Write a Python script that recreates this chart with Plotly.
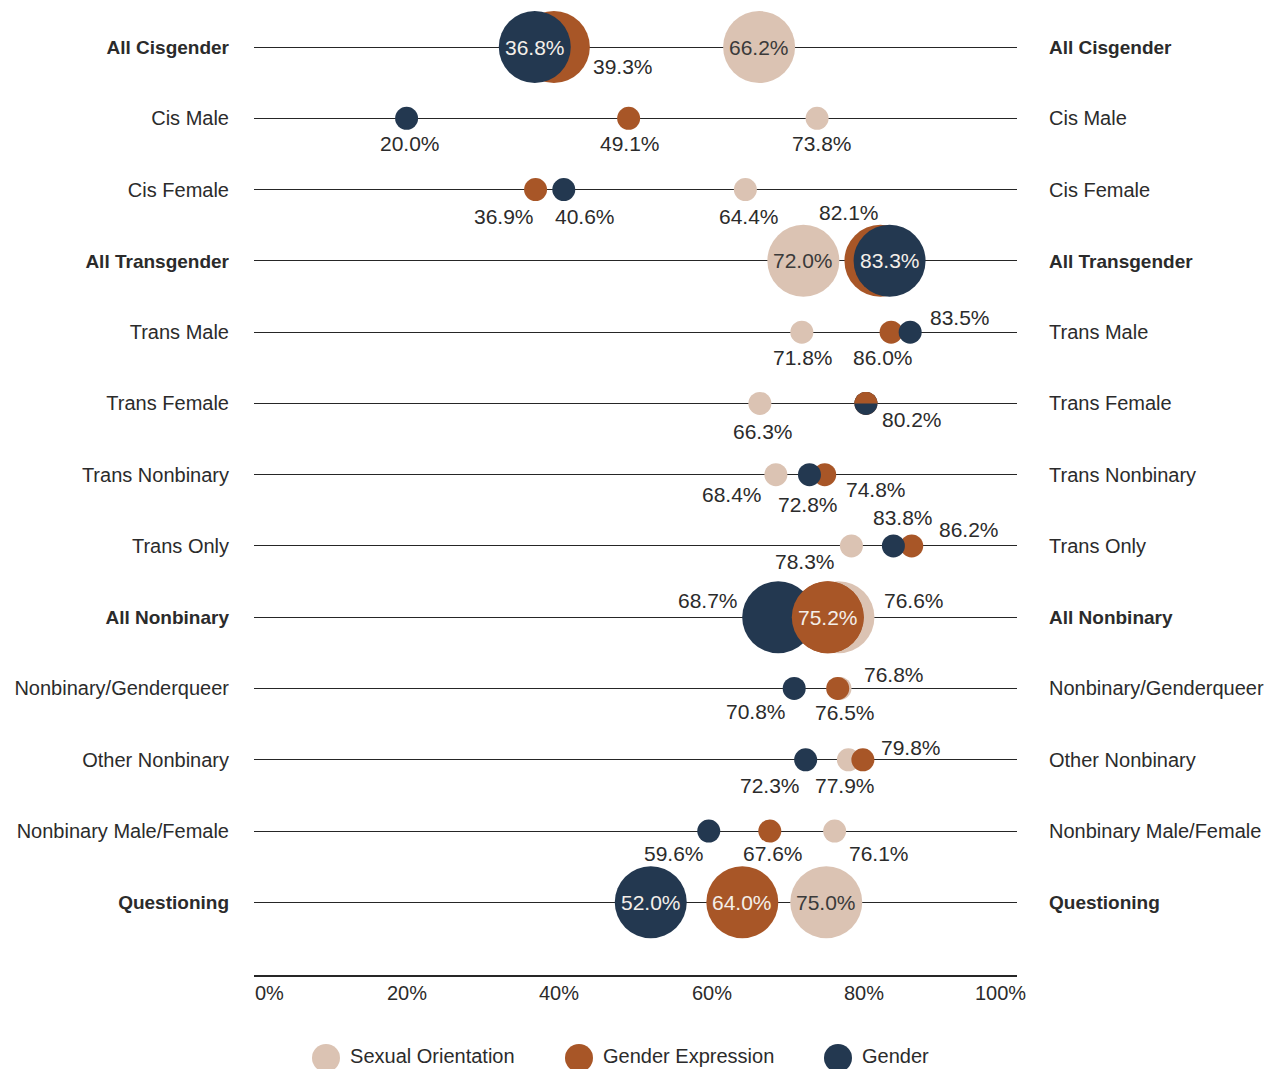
import math
import plotly.graph_objects as go

# ---- data -------------------------------------------------------------
ROWS = [
    "All Cisgender", "Cis Male", "Cis Female",
    "All Transgender", "Trans Male", "Trans Female", "Trans Nonbinary", "Trans Only",
    "All Nonbinary", "Nonbinary/Genderqueer", "Other Nonbinary", "Nonbinary Male/Female",
    "Questioning",
]
SUMMARY_ROWS = ["All Cisgender", "All Transgender", "All Nonbinary", "Questioning"]

SEXUAL_ORIENTATION = [66.2, 73.8, 64.4, 72.0, 71.8, 66.3, 68.4, 78.3, 76.6, 76.8, 77.9, 76.1, 75.0]
GENDER_EXPRESSION = [39.3, 49.1, 36.9, 82.1, 83.5, 80.2, 74.8, 86.2, 75.2, 76.5, 79.8, 67.6, 64.0]
GENDER = [36.8, 20.0, 40.6, 83.3, 86.0, 80.2, 72.8, 83.8, 68.7, 70.8, 72.3, 59.6, 52.0]

SERIES_NAMES = ["Sexual Orientation", "Gender Expression", "Gender"]
X_TICKS = [0, 20, 40, 60, 80, 100]

# ---- style ------------------------------------------------------------
TAN, RUST, NAVY = "#dbc3b3", "#a85627", "#233850"
COLORS = [TAN, RUST, NAVY]
INSIDE_TEXT = ["#3a3a3a", "#f4efe9", "#f4efe9"]
TEXT = "#2b2b2b"
LINE = "#262626"
FONT = "Liberation Sans"
BIG, SMALL = 72, 23

W, H = 1276, 1069
PLOT_L, PLOT_R = 254, 1017      # pixel extent of the value axis
PLOT_BOTTOM = 975               # pixel row of the baseline

# label offsets in pixels (dx right, dy down) for each row: (SO, GE, G)
# None -> centred inside the bubble, "hide" -> no label
LABEL_OFFSETS = {
    "All Cisgender": (None, (69, 19), None),
    "Cis Male": ((5, 25), (1, 25), (3, 25)),
    "Cis Female": ((4, 27), (-32, 27), (21, 27)),
    "All Transgender": (None, (-31, -48), None),
    "Trans Male": ((1, 25), (69, -15), (-27, 25)),
    "Trans Female": ((3, 28), (46, 16), "hide"),
    "Trans Nonbinary": ((-44, 20), (51, 15), (-1, 30)),
    "Trans Only": ((-46, 16), (57, -16), (10, -28)),
    "All Nonbinary": ((76, -17), None, (-70, -17)),
    "Nonbinary/Genderqueer": ((54, -14), (7, 24), (-38, 23)),
    "Other Nonbinary": ((-3, 26), (48, -12), (-36, 26)),
    "Nonbinary Male/Female": ((44, 22), (3, 22), (-35, 22)),
    "Questioning": (None, None, None),
}
# rows where gender expression sits on top of gender
GE_ON_TOP = ["All Nonbinary"]
# rows where the gender expression dot covers the top half of the gender dot
GE_HALF_OVER = ["Trans Female"]

series = [SEXUAL_ORIENTATION, GENDER_EXPRESSION, GENDER]
ypos = list(range(len(ROWS)))
sizes = [BIG if r in SUMMARY_ROWS else SMALL for r in ROWS]

fig = go.Figure()

for name, vals, col in zip(SERIES_NAMES, series, COLORS):
    fig.add_trace(go.Scatter(
        x=vals, y=ypos, mode="markers", name=name, showlegend=False,
        marker=dict(size=sizes, color=col, opacity=1, line=dict(width=0)),
        hoverinfo="skip", cliponaxis=False,
    ))

# gender expression bubbles that are layered above gender
idx = [ROWS.index(r) for r in GE_ON_TOP]
fig.add_trace(go.Scatter(
    x=[GENDER_EXPRESSION[i] for i in idx], y=idx, mode="markers", showlegend=False,
    marker=dict(size=[sizes[i] for i in idx], color=RUST, opacity=1, line=dict(width=0)),
    hoverinfo="skip", cliponaxis=False, yaxis="y2",
))

# half-disc of gender expression over the gender dot
for r in GE_HALF_OVER:
    i = ROWS.index(r)
    rad = sizes[i] / 2
    pts = [(rad * math.cos(math.pi * k / 24), rad * math.sin(math.pi * k / 24)) for k in range(25)]
    path = "M " + " L ".join(f"{px:.2f},{py:.2f}" for px, py in pts) + " Z"
    fig.add_shape(type="path", path=path, xref="x", yref="y",
                  xsizemode="pixel", ysizemode="pixel",
                  xanchor=GENDER_EXPRESSION[i], yanchor=i,
                  fillcolor=RUST, line=dict(width=0), layer="above")

# value labels
for i, row in enumerate(ROWS):
    for s, vals in enumerate(series):
        off = LABEL_OFFSETS[row][s]
        if off == "hide":
            continue
        if off is None:
            dx, dy, col = 0, 0, INSIDE_TEXT[s]
        else:
            dx, dy = off
            col = TEXT
        fig.add_annotation(
            x=vals[i], y=i, xref="x", yref="y", text=f"{vals[i]:.1f}%",
            showarrow=False, xshift=dx, yshift=-dy,
            font=dict(family=FONT, size=21, color=col),
        )

y_dom0 = (H - PLOT_BOTTOM) / H

# axis tick labels along the baseline
TICK_SHIFT = {0: 15, 100: -17}
for t in X_TICKS:
    fig.add_annotation(
        x=t, y=y_dom0, xref="x", yref="paper", yanchor="middle",
        yshift=-18, xshift=TICK_SHIFT.get(t, 0),
        text=f"{t}%", showarrow=False,
        font=dict(family=FONT, size=20, color=TEXT),
    )

# legend drawn as its own small strip at the foot of the chart
LEGEND_X = [326, 579, 838]
fig.add_trace(go.Scatter(
    x=LEGEND_X, y=[11, 11, 11], xaxis="x3", yaxis="y3",
    mode="markers+text", text=["\u00a0" + n for n in SERIES_NAMES],
    textposition="middle right",
    textfont=dict(family=FONT, size=20, color=TEXT),
    marker=dict(size=28, color=COLORS, opacity=1, line=dict(width=0)),
    showlegend=False, hoverinfo="skip",
))

ticktext = [f"<span style='font-size:19px'><b>{r}</b></span>" if r in SUMMARY_ROWS else r
            for r in ROWS]
yrange = [13.02, -0.66]

fig.update_layout(
    width=W, height=H, autosize=False,
    margin=dict(l=0, r=0, t=0, b=0),
    paper_bgcolor="white", plot_bgcolor="white",
    showlegend=False,
    xaxis=dict(domain=[PLOT_L / W, PLOT_R / W], range=[0, 100], anchor="y",
               showgrid=False, zeroline=False, showticklabels=False, ticks="",
               showline=True, linecolor=LINE, linewidth=1.5, fixedrange=True),
    yaxis=dict(domain=[y_dom0, 1], range=yrange, anchor="x",
               tickvals=ypos, ticktext=ticktext,
               showgrid=True, gridcolor=LINE, gridwidth=1.3, zeroline=False,
               ticks="outside", ticklen=20, tickcolor="rgba(0,0,0,0)",
               tickfont=dict(family=FONT, size=20, color=TEXT), fixedrange=True),
    yaxis2=dict(overlaying="y", side="right", anchor="x", matches="y", range=yrange,
                tickvals=ypos, ticktext=ticktext, showgrid=False, zeroline=False,
                ticks="outside", ticklen=27, tickcolor="rgba(0,0,0,0)",
                tickfont=dict(family=FONT, size=20, color=TEXT), fixedrange=True),
    xaxis3=dict(domain=[0, 1], range=[0, W], anchor="y3", visible=False, fixedrange=True),
    yaxis3=dict(domain=[0, y_dom0], range=[0, H - PLOT_BOTTOM], anchor="x3",
                visible=False, fixedrange=True),
)

fig.write_html("out.html")
